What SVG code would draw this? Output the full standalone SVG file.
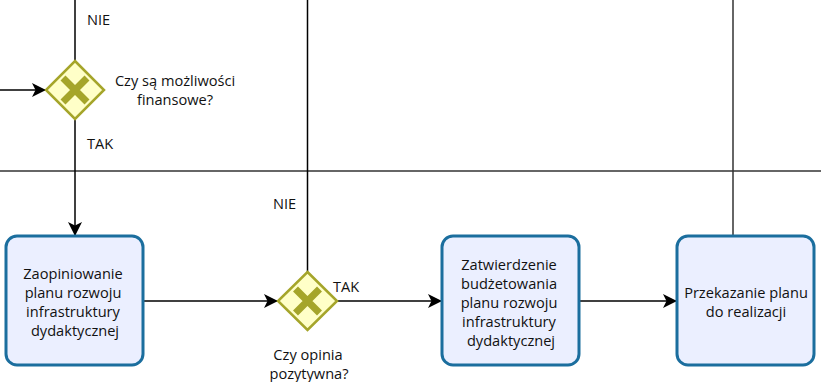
<svg xmlns="http://www.w3.org/2000/svg" width="821" height="382" viewBox="0 0 821 382">
<style>
.lane{stroke:#666;stroke-width:2;fill:none}
.flow{stroke:#000;stroke-width:1.5;fill:none}
.task{fill:#ebefff;stroke:#1b6e9e;stroke-width:3}
.gw{fill:#ffffc8;stroke:#a5a52a;stroke-width:2.5}
.gx{stroke:#a5a52a;stroke-width:7;stroke-linecap:butt}
text{font-family:"Open Sans","Noto Sans","DejaVu Sans",sans-serif;font-size:14.6px;fill:#111;text-anchor:middle}
.lbl{text-anchor:start}
</style>
<defs>
<marker id="arr" markerWidth="15" markerHeight="14" refX="14" refY="7" orient="auto" markerUnits="userSpaceOnUse">
<path d="M0,0 L14,7 L0,14 L3.5,7 Z" fill="#000"/>
</marker>
</defs>
<line class="lane" x1="0" y1="171" x2="821" y2="171"/>
<g id="connectors">
<line class="flow" x1="75" y1="0" x2="75" y2="61"/>
<line class="flow" x1="0" y1="90" x2="46" y2="90" marker-end="url(#arr)"/>
<line class="flow" x1="75" y1="119" x2="75" y2="236" marker-end="url(#arr)"/>
<line class="flow" x1="143" y1="301" x2="278" y2="301" marker-end="url(#arr)"/>
<line class="flow" x1="307.5" y1="0" x2="307.5" y2="272"/>
<line class="flow" x1="337" y1="301" x2="442" y2="301" marker-end="url(#arr)"/>
<line class="flow" x1="579" y1="301" x2="677" y2="301" marker-end="url(#arr)"/>
<line class="flow" x1="733" y1="0" x2="733" y2="236" style="stroke:#333"/>
<text class="lbl" x="87" y="25">NIE</text>
<text class="lbl" x="87" y="149">TAK</text>
<text class="lbl" x="273" y="209">NIE</text>
<text class="lbl" x="333" y="292">TAK</text>
</g>
<g id="gateway1">
<polygon class="gw" points="75,61 104,90 75,119 46,90"/>
<path class="gx" d="M63,78 L87,102 M87,78 L63,102"/>
<text x="175" y="86">Czy są możliwości</text>
<text x="175" y="105">finansowe?</text>
</g>
<g id="task1">
<rect class="task" x="6" y="236" width="137" height="129" rx="11"/>
<text x="73" y="279">Zaopiniowanie</text>
<text x="73" y="298">planu rozwoju</text>
<text x="73" y="317">infrastruktury</text>
<text x="75" y="336">dydaktycznej</text>
</g>
<g id="gateway2">
<polygon class="gw" points="307.5,272 337,301 307.5,330 278,301"/>
<path class="gx" d="M295.5,289 L319.5,313 M319.5,289 L295.5,313"/>
<text x="308" y="360">Czy opinia</text>
<text x="309" y="379">pozytywna?</text>
</g>
<g id="task2">
<rect class="task" x="442" y="236" width="137" height="129" rx="11"/>
<text x="509" y="270">Zatwierdzenie</text>
<text x="509" y="289">budżetowania</text>
<text x="509" y="308">planu rozwoju</text>
<text x="509" y="327">infrastruktury</text>
<text x="511" y="346">dydaktycznej</text>
</g>
<g id="task3">
<rect class="task" x="677" y="236" width="137" height="129" rx="11"/>
<text x="746" y="298">Przekazanie planu</text>
<text x="746" y="317">do realizacji</text>
</g>
</svg>
